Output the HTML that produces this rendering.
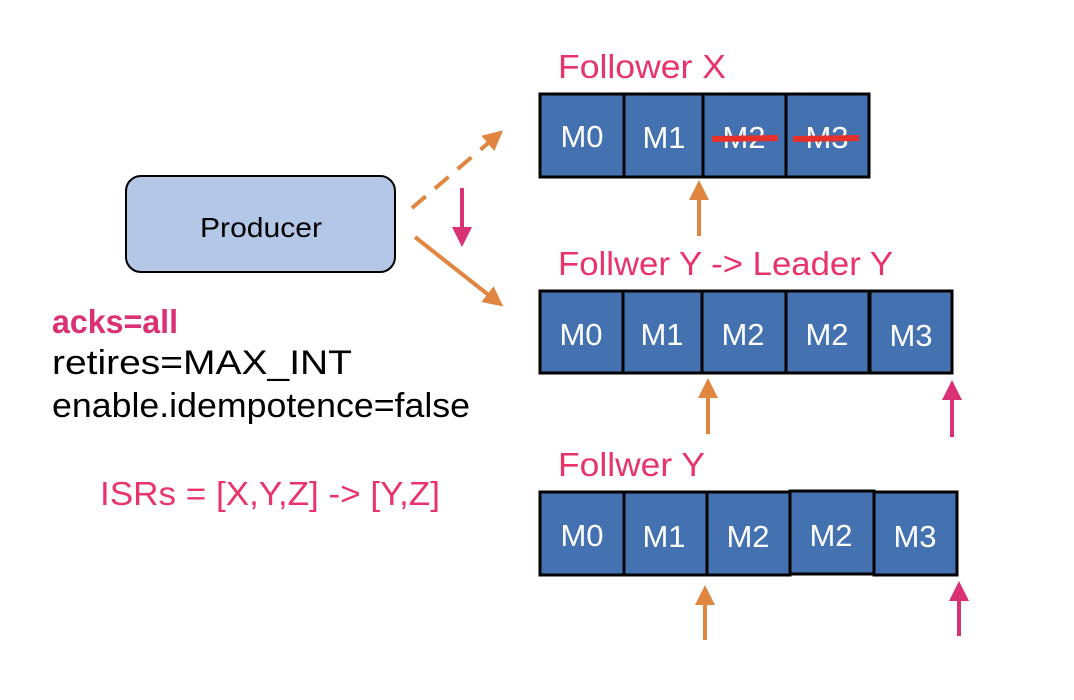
<!DOCTYPE html>
<html><head><meta charset="utf-8"><style>
html,body{margin:0;padding:0;background:#fff;}
svg{display:block;}
text{font-family:"Liberation Sans","DejaVu Sans",sans-serif;}
</style></head><body>
<svg width="1074" height="700" viewBox="0 0 1074 700" xmlns="http://www.w3.org/2000/svg">
<defs>
<marker id="ao" viewBox="0 0 10 10" refX="8" refY="5" markerWidth="5" markerHeight="5" orient="auto"><path d="M0,0L10,5L0,10z" fill="#e08641"/></marker>
<marker id="am" viewBox="0 0 10 10" refX="8" refY="5" markerWidth="5" markerHeight="5" orient="auto"><path d="M0,0L10,5L0,10z" fill="#d93174"/></marker>
</defs>
<rect x="126" y="176" width="269" height="96" rx="15" fill="#b4c7e7" stroke="#000" stroke-width="2"/>
<text x="200" y="237" font-size="28" fill="#000" textLength="122" lengthAdjust="spacingAndGlyphs">Producer</text>

<line x1="412" y1="208" x2="500" y2="133" stroke="#e08641" stroke-width="4" stroke-dasharray="18,12" marker-end="url(#ao)"/>
<line x1="415" y1="237" x2="500" y2="304" stroke="#e08641" stroke-width="4" marker-end="url(#ao)"/>
<line x1="462" y1="188" x2="462" y2="243" stroke="#d93174" stroke-width="4" marker-end="url(#am)"/>

<text x="558" y="78" font-size="33" fill="#e8336b" textLength="168" lengthAdjust="spacingAndGlyphs">Follower X</text>
<g fill="#4472b0" stroke="#000" stroke-width="3">
<rect x="540" y="94" width="84" height="83"/><rect x="624" y="94" width="79" height="83"/><rect x="703" y="94" width="83" height="83"/><rect x="786" y="94" width="83" height="83"/>
</g>
<g fill="#fff" font-size="31" text-anchor="middle">
<text x="582" y="147">M0</text><text x="664" y="148">M1</text><text x="744" y="148">M2</text><text x="827" y="148">M3</text>
</g>
<line x1="712" y1="139" x2="778" y2="138" stroke="#e8302a" stroke-width="6"/>
<line x1="793" y1="139" x2="859" y2="138" stroke="#e8302a" stroke-width="6"/>
<line x1="699" y1="236" x2="699" y2="184" stroke="#e08641" stroke-width="4" marker-end="url(#ao)"/>

<text x="558" y="275" font-size="33" fill="#e8336b" textLength="335" lengthAdjust="spacingAndGlyphs">Follwer Y -&gt; Leader Y</text>
<g fill="#4472b0" stroke="#000" stroke-width="3">
<rect x="540" y="291" width="83" height="82"/><rect x="623" y="291" width="79" height="82"/><rect x="702" y="291" width="84" height="82"/><rect x="786" y="291" width="83" height="82"/><rect x="870" y="291" width="82" height="82"/>
</g>
<g fill="#fff" font-size="31" text-anchor="middle">
<text x="581" y="345">M0</text><text x="662" y="345">M1</text><text x="743" y="345">M2</text><text x="827" y="345">M2</text><text x="911" y="346">M3</text>
</g>
<line x1="708" y1="434" x2="708" y2="382" stroke="#e08641" stroke-width="4" marker-end="url(#ao)"/>
<line x1="952" y1="437" x2="952" y2="384" stroke="#d93174" stroke-width="4" marker-end="url(#am)"/>

<text x="558" y="476" font-size="33" fill="#e8336b" textLength="147" lengthAdjust="spacingAndGlyphs">Follwer Y</text>
<g fill="#4472b0" stroke="#000" stroke-width="3">
<rect x="540" y="492" width="84" height="83"/><rect x="624" y="492" width="83" height="83"/><rect x="707" y="492" width="83" height="83"/><rect x="790" y="491" width="84" height="83"/><rect x="874" y="492" width="83" height="83"/>
</g>
<g fill="#fff" font-size="31" text-anchor="middle">
<text x="582" y="546">M0</text><text x="664" y="547">M1</text><text x="748" y="547">M2</text><text x="831" y="546">M2</text><text x="915" y="547">M3</text>
</g>
<line x1="705" y1="640" x2="705" y2="589" stroke="#e08641" stroke-width="4" marker-end="url(#ao)"/>
<line x1="959" y1="636" x2="959" y2="585" stroke="#d93174" stroke-width="4" marker-end="url(#am)"/>

<text x="52" y="333" font-size="33" font-weight="bold" fill="#d93174" textLength="126" lengthAdjust="spacingAndGlyphs">acks=all</text>
<text x="52" y="374" font-size="34" fill="#000" textLength="300" lengthAdjust="spacingAndGlyphs">retires=MAX_INT</text>
<text x="52" y="417" font-size="34" fill="#000" textLength="418" lengthAdjust="spacingAndGlyphs">enable.idempotence=false</text>
<text x="100" y="505" font-size="33" fill="#e8336b" textLength="340" lengthAdjust="spacingAndGlyphs">ISRs = [X,Y,Z] -&gt; [Y,Z]</text>
</svg>
</body></html>
